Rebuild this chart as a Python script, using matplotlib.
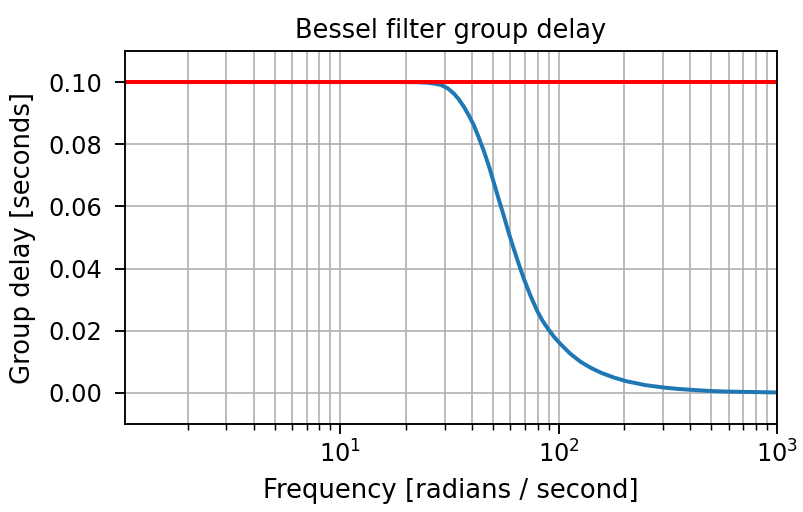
import matplotlib
matplotlib.use("Agg")
import matplotlib.pyplot as plt

# Values
freq = [1.03, 3, 10, 20, 22.5, 25, 27, 28.8, 31, 33.1, 34.9, 36.8, 38.8, 40.9,
        43, 45.5, 48, 50.5, 53, 56.1, 59, 62.4, 65.8, 69.4, 74.5, 79.9, 84,
        88.9, 95, 102, 113, 126, 140, 156, 178, 203, 250, 305, 350, 403, 500,
        616, 750, 1000]
delay = [0.1, 0.1, 0.1, 0.1, 0.09995, 0.0998, 0.0995, 0.0991, 0.0980, 0.0963,
         0.0944, 0.0920, 0.0892, 0.0860, 0.0822, 0.0776, 0.0727, 0.0675,
         0.0625, 0.0568, 0.0515, 0.0461, 0.0412, 0.0365, 0.0310, 0.0262,
         0.0234, 0.0208, 0.0181, 0.0157, 0.0126, 0.0100, 0.0081, 0.0065,
         0.0050, 0.0038, 0.0025, 0.0017, 0.0013, 0.0010, 0.0006, 0.0004,
         0.0003, 0.00015]
target_delay = 0.1

title = "Bessel filter group delay"
xlabel = "Frequency [radians / second]"
ylabel = "Group delay [seconds]"

fig = plt.figure(figsize=(803 / 150, 512 / 150), dpi=150)
ax = fig.add_axes([125 / 803, 1 - 424 / 512, (777 - 125) / 803, (424 - 51) / 512])

ax.semilogx(freq, delay, color="#1f77b4", lw=1.9)
ax.axhline(target_delay, color="red", lw=1.9)
ax.set_xlim(freq[0], freq[-1])
ax.set_ylim(-0.01, 0.11)
ax.set_yticks([0.0, 0.02, 0.04, 0.06, 0.08, 0.10])
ax.set_yticklabels(["0.00", "0.02", "0.04", "0.06", "0.08", "0.10"])
ax.grid(which="both", axis="both", color="#b0b0b0", lw=0.8)
ax.tick_params(which="major", labelsize=11.6, length=4.8, width=0.9)
ax.tick_params(which="minor", length=2.8, width=0.7)
ax.tick_params(axis="y", which="major", pad=6)
ax.tick_params(axis="x", which="major", pad=3.2)
for s in ax.spines.values():
    s.set_linewidth(0.9)
ax.set_title(title, fontsize=12.3, pad=6)
ax.set_xlabel(xlabel, fontsize=12.4, labelpad=5)
ax.set_ylabel(ylabel, fontsize=12.4, labelpad=6)

fig.savefig("out.png", dpi=150)
